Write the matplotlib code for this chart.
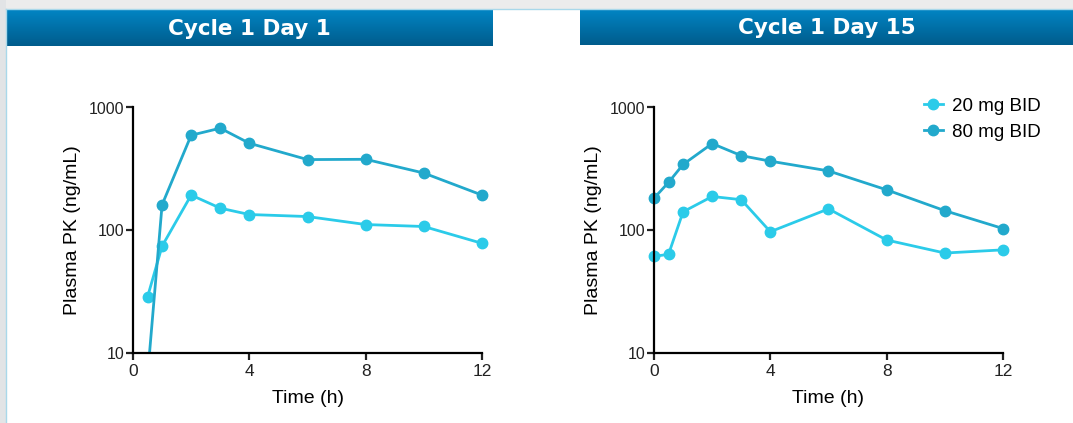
import numpy as np
import matplotlib.pyplot as plt
from matplotlib.patches import Rectangle
from matplotlib.lines import Line2D
from matplotlib.colors import LinearSegmentedColormap

# Data
t_day1 = [0.5, 1, 2, 3, 4, 6, 8, 10, 12]
day1_20mg = [28.5, 74, 193, 151, 134, 129, 111, 107, 78]
day1_80mg = [6.4, 161, 594, 678, 511, 376, 378, 292, 193]

t_day15 = [0, 0.5, 1, 2, 3, 4, 6, 8, 10, 12]
day15_20mg = [61, 63.5, 141, 188, 177, 97, 149, 83, 65, 69]
day15_80mg = [182, 245, 343, 508, 405, 365, 304, 213, 144, 103]

titles = ["Cycle 1 Day 1", "Cycle 1 Day 15"]
labels = ["20 mg BID", "80 mg BID"]
colors = ["#2bcbe9", "#22a9cc"]
xticks = [0, 4, 8, 12]

W, H = 1073, 423
fig = plt.figure(figsize=(W / 100, H / 100), dpi=100)
plt.rcParams['font.family'] = ['Liberation Sans', 'DejaVu Sans']

# page background: grey band on top and left
fig.patches.append(Rectangle((0, 1 - 9 / H), 1, 9 / H, transform=fig.transFigure,
                             facecolor="#ececec", edgecolor="none", zorder=0))
fig.patches.append(Rectangle((0, 0), 6 / W, 1, transform=fig.transFigure,
                             facecolor="#e2e4e6", edgecolor="none", zorder=0))
fig.add_artist(Line2D([6 / W, 6 / W], [0, 1 - 9 / H], color="#a9d8ea", lw=1))
fig.add_artist(Line2D([6 / W, 1], [1 - 9 / H, 1 - 9 / H], color="#a9d8ea", lw=1))

# header bars with a vertical gradient
grad = np.linspace(0, 1, 100).reshape(-1, 1)
cmap = LinearSegmentedColormap.from_list("hdr", ["#0285c4", "#005c8c"])
bars = [(6, 493, 9, 46), (580, 1073, 9, 45)]
for (x0, x1, y0, y1), title in zip(bars, titles):
    hax = fig.add_axes([x0 / W, 1 - y1 / H, (x1 - x0) / W, (y1 - y0) / H])
    hax.imshow(grad, aspect="auto", cmap=cmap, extent=[0, 1, 0, 1])
    hax.set_axis_off()
    hax.text(0.5, 0.47, title, color="white", fontsize=15.5, fontweight="bold",
             ha="center", va="center", family=["DejaVu Sans"],
             transform=hax.transAxes)

ax_pos = [(133, 482), (654, 1003)]
series = [(t_day1, day1_20mg, day1_80mg), (t_day15, day15_20mg, day15_80mg)]
for i, ((px0, px1), (t, s20, s80)) in enumerate(zip(ax_pos, series)):
    ax = fig.add_axes([px0 / W, 1 - 352.7 / H, (px1 - px0) / W, (352.7 - 107.5) / H])
    for s, c in zip([s20, s80], colors):
        t_arr, s_arr = np.asarray(t), np.asarray(s)
        ok = s_arr >= 10
        # line clipped to the axes, markers may overhang the frame
        ax.plot(t_arr, s_arr, color=c, lw=2)
        ax.plot(t_arr[ok], s_arr[ok], ls="none", marker="o", ms=7.5, color=c,
                clip_on=False)
    ax.set_yscale("log")
    ax.set_ylim(10, 1000)
    ax.set_xlim(0, 12)
    ax.set_xticks(xticks)
    ax.set_yticks([10, 100, 1000])
    ax.set_yticklabels(["10", "100", "1000"])
    ax.yaxis.set_minor_locator(plt.NullLocator())
    ax.spines['top'].set_visible(False)
    ax.spines['right'].set_visible(False)
    ax.spines['left'].set_linewidth(1.6)
    ax.spines['bottom'].set_linewidth(1.6)
    ax.tick_params(width=1.6, length=5, labelsize=12.5, colors="#222222", pad=3)
    ax.tick_params(axis="y", labelsize=11.5, pad=1)
    ax.set_xlabel("Time (h)", fontsize=14, labelpad=8)
    ax.set_ylabel("Plasma PK (ng/mL)", fontsize=14, labelpad=6)
    if i == 1:
        handles = [Line2D([], [], color=c, lw=2, marker="o", ms=7.5) for c in colors]
        ax.legend(handles, labels, loc="upper right", bbox_to_anchor=(1.13, 1.07),
                  frameon=False, fontsize=13.5, handlelength=1.0, handletextpad=0.5,
                  labelspacing=0.45, borderaxespad=0)

fig.savefig("out.png", dpi=100)
